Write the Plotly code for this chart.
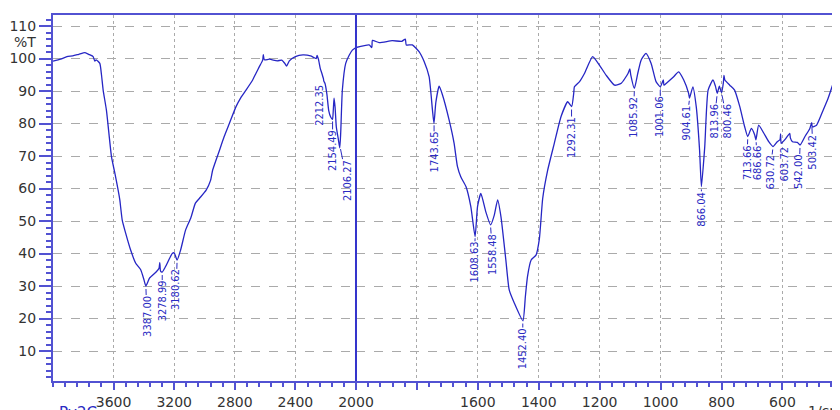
import numpy as np
import plotly.graph_objects as go

# ---------------- data ----------------
wavenumber = [
    4000, 3950, 3908, 3870, 3830, 3789, 3760, 3735, 3724, 3715, 3691, 3680, 3669, 3647,
    3614, 3592, 3570, 3559, 3543, 3520, 3487, 3454, 3421, 3400, 3387, 3362, 3318, 3300,
    3295, 3290, 3279, 3257, 3213, 3200, 3181, 3158, 3125, 3090, 3060, 3033, 2989, 2960,
    2946, 2901, 2870, 2836, 2792, 2760, 2726, 2682, 2660, 2638, 2616, 2612, 2605, 2572,
    2520, 2490, 2470, 2458, 2440, 2400, 2350, 2300, 2262, 2257, 2248, 2236, 2225, 2215,
    2212, 2205, 2192, 2180, 2167, 2155, 2150, 2145, 2138, 2130, 2116, 2107, 2101, 2090,
    2068, 2045, 2024, 2000,
    1957, 1948, 1946, 1924, 1881, 1850, 1838, 1835, 1815, 1793, 1776, 1760, 1749, 1744,
    1738, 1727, 1716, 1694, 1678, 1667, 1656, 1639, 1623, 1609, 1601, 1590, 1574, 1558,
    1546, 1535, 1524, 1508, 1497, 1480, 1452, 1444, 1437, 1425, 1409, 1398, 1387, 1371,
    1349, 1327, 1305, 1292, 1285, 1283, 1266, 1250, 1223, 1201, 1179, 1151, 1129, 1107,
    1101, 1098, 1086, 1075, 1064, 1048, 1031, 1015, 1001, 991, 989, 980, 957, 941, 924,
    908, 905, 894, 883, 872, 866, 855, 844, 828, 820, 814, 807, 800, 794, 792, 789, 773,
    757, 740, 724, 714, 702, 691, 687, 678, 661, 645, 631, 617, 608, 606, 604, 589, 576,
    574, 567, 551, 542, 526, 510, 504, 502, 488, 466, 450, 428, 417, 411,
]
transmittance = [
    99.2, 99.8, 100.6, 100.8, 101.3, 101.8, 101.2, 100.6, 99.2, 99.6, 98.5, 95.0, 90.3, 84.0,
    69.8, 64.8, 59.5, 56.5, 50.3, 46.2, 41.0, 37.0, 35.0, 32.0, 30.0, 32.5, 34.4, 35.5,
    37.2, 34.6, 34.3, 36.0, 40.0, 40.2, 38.0, 41.0, 47.2, 51.0, 55.5, 57.0, 59.5, 62.5,
    65.7, 71.8, 76.0, 80.0, 85.2, 88.0, 90.3, 93.4, 95.5, 97.5, 99.5, 101.2, 99.6, 99.8,
    99.3, 99.5, 98.5, 97.7, 99.3, 100.6, 101.1, 100.8, 100.0, 101.0, 99.8, 97.0, 95.4, 93.8,
    93.0, 92.4, 89.0, 84.0, 82.0, 81.3, 84.0, 87.8, 85.0, 79.0, 75.0, 72.5, 77.0, 90.3,
    98.5, 101.0, 102.6, 103.4,
    104.2, 103.4, 105.6, 104.9, 105.5, 105.3, 106.0, 104.2, 104.2, 102.1, 99.0, 94.4, 84.2, 80.0,
    86.4, 91.5, 88.8, 81.0, 74.0, 66.8, 63.6, 60.6, 54.4, 45.2, 54.4, 58.5, 52.9, 48.8,
    51.8, 56.5, 51.3, 38.0, 28.8, 24.7, 19.3, 26.7, 32.9, 38.0, 39.5, 44.5, 57.0, 65.5,
    73.9, 82.1, 86.7, 85.2, 89.5, 91.3, 92.9, 95.4, 100.6, 98.0, 94.9, 91.8, 92.4, 95.4,
    96.8, 95.0, 90.8, 95.4, 99.5, 101.6, 98.5, 92.9, 91.3, 93.4, 91.8, 92.5, 94.4, 95.9, 93.4,
    89.3, 87.8, 91.3, 85.2, 71.8, 60.6, 72.9, 90.3, 93.4, 91.5, 89.3, 91.5, 89.5, 92.5,
    94.8, 93.4, 91.8, 90.3, 85.2, 79.0, 76.0, 78.5, 76.5, 75.0, 79.5, 77.0, 74.4, 72.9,
    74.4, 75.0, 76.8, 73.9, 75.4, 77.0, 75.6, 74.4, 74.2, 73.4, 76.0, 78.5, 80.3, 79.0,
    79.5, 84.2, 87.8, 93.9, 97.0, 98.0,
]

peak_wavenumbers = [3387.00, 3278.99, 3180.62, 2212.35, 2154.49, 2106.27, 1743.65,
                    1608.63, 1558.48, 1452.40, 1292.31, 1085.92, 1001.06, 904.61,
                    866.04, 813.96, 800.46, 713.66, 686.66, 630.72, 603.72, 542.00,
                    503.42]
peak_labels = [f"{w:.2f}" for w in peak_wavenumbers]

x_ticks_high = [3600, 3200, 2800, 2400, 2000]
x_ticks_low = [1800, 1600, 1400, 1200, 1000, 800, 600]
x_ticktext_low = ["", "1600", "1400", "1200", "1000", "800", "600"]
y_ticks = [10, 20, 30, 40, 50, 60, 70, 80, 90, 100, 110]

# ---------------- label placement (pixel offsets of the peak captions) ----------------
label_offsets = [(1, 30), (0, 29), (-1, 30), (-4, 24), (0, 32), (7, 34), (0, 30),
                 (-1, 27), (2, 30), (0, 28), (0, 31), (-1, 29), (0, 30), (-3, 25),
                 (0, 23), (-3, 28), (6, 29), (-1, 26), (1, 24), (-3, 26), (3, 21),
                 (-1, 27), (1, 28)]

# ---------------- styling ----------------
AXIS_BLUE = "#5252d2"
CURVE_BLUE = "#2626c4"
LABEL_BLUE = "#2a2ac2"
TICK_FONT = dict(family="DejaVu Sans, Arial, sans-serif", size=14, color="#333333")
PEAK_FONT = dict(family="Liberation Sans Narrow, DejaVu Sans Condensed, Arial Narrow, sans-serif",
                 size=11, color=LABEL_BLUE)

wn = np.array(wavenumber, dtype=float)
tr = np.array(transmittance, dtype=float)
high = wn >= 2000
low = wn <= 2000

fig = go.Figure()
fig.add_trace(go.Scatter(x=wn[high], y=tr[high], mode="lines", xaxis="x", yaxis="y",
                         line=dict(color=CURVE_BLUE, width=1.3, shape="spline", smoothing=0.5),
                         hoverinfo="skip"))
fig.add_trace(go.Scatter(x=wn[low], y=tr[low], mode="lines", xaxis="x2", yaxis="y",
                         line=dict(color=CURVE_BLUE, width=1.3, shape="spline", smoothing=0.5),
                         hoverinfo="skip"))

order = np.argsort(wn)
annotations = []
for w, lab, (dx, dy) in zip(peak_wavenumbers, peak_labels, label_offsets):
    t = float(np.interp(w, wn[order], tr[order]))
    annotations.append(dict(
        x=w, y=t, xref="x" if w > 2000 else "x2", yref="y",
        text=lab, textangle=-90, font=PEAK_FONT,
        showarrow=True, arrowhead=0, arrowwidth=1, arrowcolor=LABEL_BLUE,
        ax=dx, ay=dy, standoff=3, borderpad=0,
    ))

annotations += [
    dict(text="%T", xref="paper", yref="paper", x=-0.036, y=0.926, showarrow=False,
         font=TICK_FONT, xanchor="center", yanchor="middle"),
    dict(text="1/cm", xref="paper", yref="paper", x=0.982, y=-0.083, showarrow=False,
         font=TICK_FONT, xanchor="center", yanchor="middle"),
    dict(text="Py2C", xref="paper", yref="paper", x=0.032, y=-0.087, showarrow=False,
         font=dict(family="DejaVu Sans, Arial, sans-serif", size=15, color=LABEL_BLUE),
         xanchor="center", yanchor="middle"),
]

common_x = dict(
    ticks="outside", ticklen=7, tickwidth=1.5, tickcolor=AXIS_BLUE,
    showline=True, linecolor=AXIS_BLUE, linewidth=2, mirror=True,
    showgrid=True, gridcolor="#aaaaaa", griddash="dot", gridwidth=1,
    zeroline=False, tickfont=TICK_FONT, anchor="y", fixedrange=True,
    automargin=False,
)

# the page body adds an 8 px offset, so the figure is sized to end at the window edge
fig.update_layout(
    width=832, height=402, autosize=False,
    margin=dict(l=45, r=0, t=7, b=29, pad=0, autoexpand=False),
    plot_bgcolor="white", paper_bgcolor="white",
    showlegend=False,
    xaxis=dict(domain=[0, 0.385], range=[4000, 2000], tickmode="array",
               tickvals=x_ticks_high, ticktext=[str(v) for v in x_ticks_high],
               minor=dict(tick0=4000, dtick=80, ticks="outside", ticklen=4,
                          tickcolor=AXIS_BLUE, tickwidth=1.5, showgrid=False),
               **common_x),
    xaxis2=dict(domain=[0.385, 1], range=[2000, 411], tickmode="array",
                tickvals=x_ticks_low, ticktext=x_ticktext_low,
                minor=dict(tick0=2000, dtick=40, ticks="outside", ticklen=4,
                           tickcolor=AXIS_BLUE, tickwidth=1.5, showgrid=False),
                **common_x),
    yaxis=dict(range=[0.77, 113.4], tickmode="array", tickvals=y_ticks,
               ticks="outside", ticklen=12, tickwidth=1.5, tickcolor=AXIS_BLUE,
               minor=dict(tick0=0, dtick=2, ticks="outside", ticklen=5,
                          tickcolor=AXIS_BLUE, tickwidth=1.5, showgrid=False),
               showline=True, linecolor=AXIS_BLUE, linewidth=2,
               showgrid=True, gridcolor="#aaaaaa", griddash="dash", gridwidth=1,
               zeroline=False, tickfont=TICK_FONT, fixedrange=True, automargin=False),
    annotations=annotations,
    shapes=[dict(type="line", xref="x2 domain", yref="paper", x0=0, x1=0, y0=0, y1=1,
                 line=dict(color="#3434cc", width=2), layer="above")],
)

fig.write_html("out.html")
